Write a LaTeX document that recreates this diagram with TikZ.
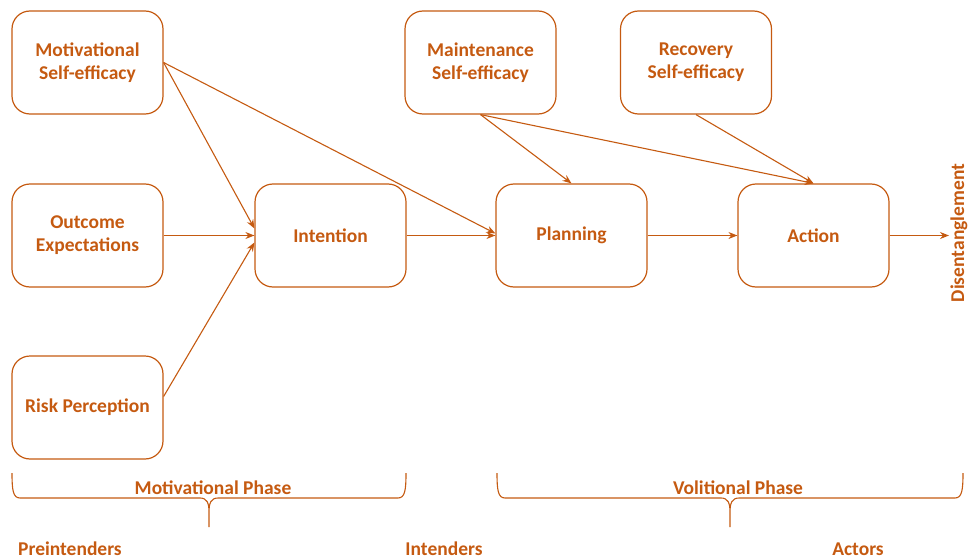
\documentclass[tikz,border=0pt]{standalone}
\usepackage{fontspec}
\setmainfont{Carlito}
\usetikzlibrary{arrows.meta}

\definecolor{hapa}{RGB}{197,90,17}

\begin{document}
\begin{tikzpicture}[x=1pt,y=-1pt,
   every node/.style={text=hapa,font=\fontsize{19.5}{23}\selectfont\bfseries,align=center},
   box/.style={draw=hapa,line width=1.2pt,rounded corners=18pt,minimum width=151pt,minimum height=103pt},
   arr/.style={draw=hapa,line width=1.1pt,-{Stealth[length=9pt,width=7pt]}},
   brace/.style={draw=hapa,line width=1.1pt}]
   \useasboundingbox (0,0) rectangle (969,559);

   \node[box] (motse) at (87.5,62.5) {Motivational\\Self-efficacy};
   \node[box] (outcome) at (87.5,235.5) {Outcome\\Expectations};
   \node[box] (risk) at (87.5,407.5) {Risk Perception};
   \node[box] (intention) at (330.5,235.5) {Intention};
   \node[box] (planning) at (571.5,235.5) {Planning};
   \node[box] (action) at (813.5,235.5) {Action};
   \node[box] (maintse) at (480.5,62.5) {Maintenance\\Self-efficacy};
   \node[box] (recovse) at (696,62.5) {Recovery\\Self-efficacy};

   \node[rotate=90,inner sep=0pt] (disent) at (959,233) {Disentanglement};
   \coordinate (out) at (949,235.5);

   \path[arr] (motse.east) -- ([yshift=7pt]intention.west);
   \path[arr] (motse.east) -- ([yshift=2pt]planning.west);
   \path[arr] (outcome) -- (intention);
   \path[arr] ([yshift=11pt]risk.east) -- ([yshift=-7pt]intention.west);
   \path[arr] (intention) -- (planning);
   \path[arr] (planning) -- (action);
   \path[arr] (action) -- (out);
   \path[arr] (maintse.south) -- (planning.north);
   \path[arr] (maintse.south) -- (action.north);
   \path[arr] (recovse.south) -- (action.north);

   % phase braces
   \path[brace] (12,473) .. controls (12,490) and (13,498) .. (20,498) -- (200,498)
      .. controls (207,498) and (209,503) .. (209,512) -- (209,527)
      (209,512) .. controls (209,503) and (211,498) .. (218,498) -- (398,498)
      .. controls (405,498) and (406,490) .. (406,473);
   \path[brace] (497,473) .. controls (497,490) and (498,498) .. (505,498) -- (721,498)
      .. controls (728,498) and (730,503) .. (730,512) -- (730,527)
      (730,512) .. controls (730,503) and (732,498) .. (739,498) -- (955,498)
      .. controls (962,498) and (963,490) .. (963,473);

   \node (motphase) at (213,488) {Motivational Phase};
   \node (volphase) at (738,488) {Volitional Phase};

   \node (preint) at (70,549) {Preintenders};
   \node (intenders) at (444,549) {Intenders};
   \node (actors) at (858,549) {Actors};
\end{tikzpicture}
\end{document}
